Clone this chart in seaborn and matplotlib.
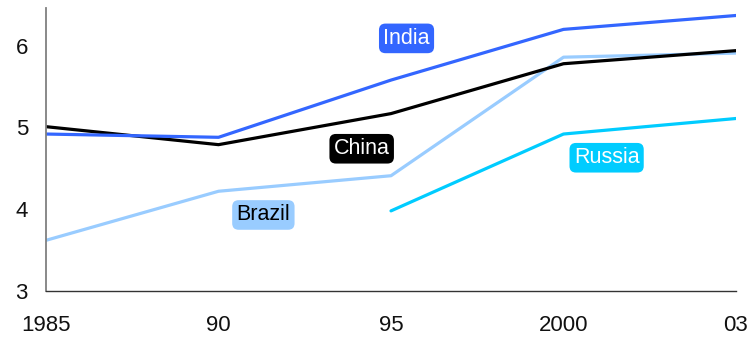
import matplotlib
matplotlib.use("Agg")
import matplotlib.pyplot as plt
import numpy as np
import pandas as pd
import seaborn as sns

years = ["1985", "90", "95", "2000", "03"]
india = [4.92, 4.88, 5.58, 6.20, 6.37]
china = [5.01, 4.79, 5.17, 5.78, 5.94]
brazil = [3.62, 4.22, 4.41, 5.86, 5.91]
russia = [np.nan, np.nan, 3.98, 4.92, 5.11]

series = {"India": india, "China": china, "Brazil": brazil, "Russia": russia}
colors = {"India": "#3366FF", "China": "#000000", "Brazil": "#99CCFF", "Russia": "#00CCFF"}

rows = []
for name, vals in series.items():
    for i, v in enumerate(vals):
        rows.append({"pos": i, "value": v, "country": name})
df = pd.DataFrame(rows).dropna()

sns.set_style("white")
plt.rcParams["font.family"] = ["Liberation Sans", "DejaVu Sans"]

fig = plt.figure(figsize=(7.51, 3.39), dpi=100)
ax = fig.add_axes([0.0613, 0.1416, 0.9187, 0.8344])

sns.lineplot(data=df, x="pos", y="value", hue="country", palette=colors,
             hue_order=["Brazil", "Russia", "China", "India"],
             linewidth=2.3, legend=False, ax=ax, sort=False)

ax.set_xlim(0, len(years) - 1)
ax.set_ylim(3, 6.46)
ax.set_xticks(range(len(years)))
ax.set_xticklabels(years)
ax.set_yticks([3, 4, 5, 6])
ax.set_xlabel("")
ax.set_ylabel("")
ax.tick_params(axis="both", length=0, labelsize=16, labelcolor="#111111")
ax.tick_params(axis="x", pad=17)
ax.tick_params(axis="y", pad=13)

for side in ["top", "right"]:
    ax.spines[side].set_visible(False)
ax.spines["left"].set_color("#808080")
ax.spines["left"].set_linewidth(1.3)
ax.spines["bottom"].set_color("#333333")
ax.spines["bottom"].set_linewidth(1.0)

# Series name tags placed near each line
tags = [
    ("India", 2.09, 6.09, "#3366FF", "white"),
    ("China", 1.83, 4.74, "#000000", "white"),
    ("Brazil", 1.26, 3.93, "#99CCFF", "black"),
    ("Russia", 3.25, 4.63, "#00CCFF", "white"),
]
for text, x, y, bg, fg in tags:
    ax.text(x, y, text, ha="center", va="center", fontsize=15.5, color=fg,
            bbox=dict(boxstyle="round,pad=0.2,rounding_size=0.3", fc=bg, ec="none"))

fig.savefig("out.png", dpi=100)
